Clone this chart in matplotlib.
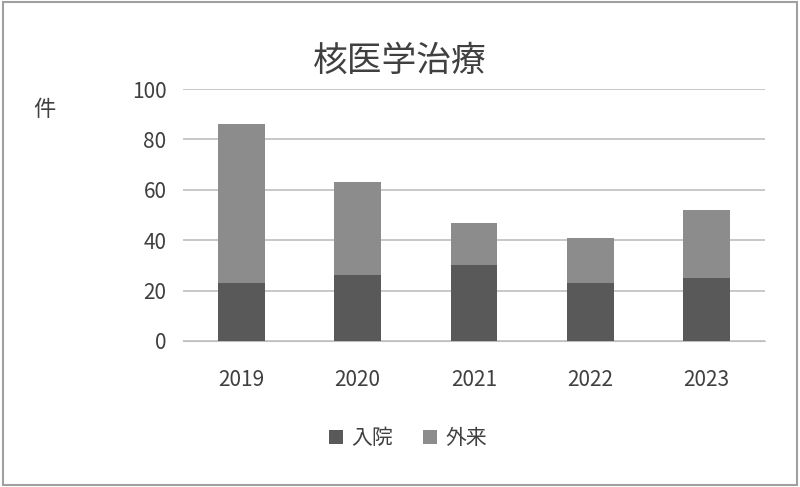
import matplotlib
matplotlib.use("Agg")
import matplotlib.pyplot as plt
from matplotlib.patches import Rectangle

plt.rcParams['font.family'] = ['Noto Sans CJK JP', 'DejaVu Sans']

years = ["2019", "2020", "2021", "2022", "2023"]
inpatient = [23, 26, 30, 23, 25]
outpatient = [63, 37, 17, 18, 27]

fig = plt.figure(figsize=(8, 4.87), dpi=100)
ax = fig.add_axes([0.229, 0.30, 0.727, 0.517])
x = range(len(years))
ax.bar(x, inpatient, width=0.4, color="#595959", label="入院", zorder=3)
ax.bar(x, outpatient, width=0.4, bottom=inpatient, color="#8c8c8c", label="外来", zorder=3)
ax.set_ylim(0, 100)
ax.set_xlim(-0.5, 4.5)
ax.set_yticks(range(0, 101, 20))
ax.set_xticks(list(x))
ax.set_xticklabels(years)
ax.grid(axis="y", color="#bfbfbf", linewidth=1.2, zorder=0)
for s in ["top", "right", "left"]:
    ax.spines[s].set_visible(False)
ax.spines["bottom"].set_color("#bfbfbf")
ax.tick_params(axis="both", length=0, labelsize=15, colors="#404040", pad=12)
ax.tick_params(axis="x", pad=20)
fig.text(0.50, 0.875, "核医学治療", fontsize=25, color="#404040", ha="center", va="center")
fig.text(0.055, 0.775, "件", fontsize=16, color="#404040", ha="center", va="center")
fig.legend(loc="center", bbox_to_anchor=(0.51, 0.10), ncol=2, frameon=False,
           fontsize=15, handlelength=0.7, handleheight=0.7, columnspacing=1.4,
           handletextpad=0.4, labelcolor="#404040")
fig.add_artist(Rectangle((0.004, 0.004), 0.992, 0.992, transform=fig.transFigure,
                         fill=False, edgecolor="#a0a0a0", linewidth=1.5))
fig.savefig("out.png", dpi=100)
